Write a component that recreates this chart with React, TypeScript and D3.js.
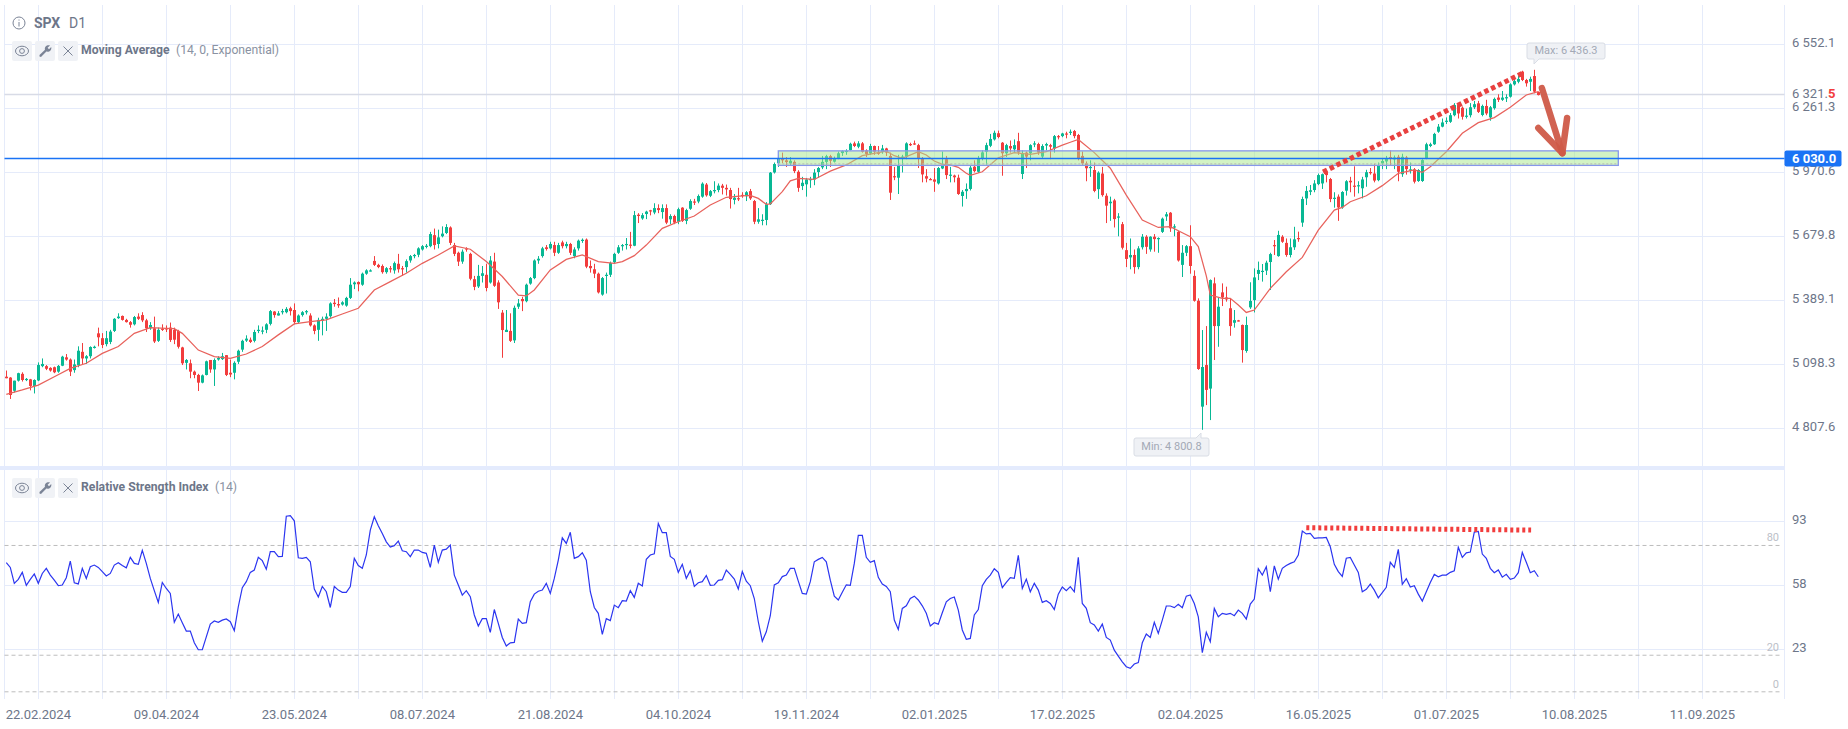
import React from "react";
import * as d3 from "d3";

// Every row holds 16 sessions; 24 rows = 384 daily candles
const openPrices = [
5042,5038,4978,5024,5055,5028,5030,5000,5025,5090,5090,5082,5085,5065,5092,5130,
5120,5072,5095,5155,5125,5135,5175,5239,5217,5190,5200,5250,5308,5318,5300,5290,
5280,5315,5322,5298,5262,5262,5205,5260,5262,5265,5255,5250,5175,5105,5103,5065,
5050,5015,5050,5118,5075,5120,5122,5140,5060,5060,5110,5165,5206,5210,5205,5250,
5250,5255,5282,5338,5320,5335,5335,5353,5345,5290,5322,5335,5320,5275,5255,5297,
5305,5317,5378,5372,5370,5365,5400,5462,5472,5460,5510,5525,5568,5550,5545,5517,
5535,5525,5555,5535,5540,5570,5590,5596,5620,5632,5635,5685,5645,5680,5695,5720,
5640,5605,5565,5625,5600,5485,5452,5500,5505,5470,5565,5470,5333,5245,5250,5207,
5360,5395,5385,5465,5490,5570,5590,5630,5625,5640,5605,5652,5635,5645,5590,5625,
5660,5665,5545,5530,5510,5415,5500,5505,5562,5605,5635,5640,5642,5637,5778,5761,
5781,5798,5788,5808,5790,5808,5757,5772,5746,5810,5750,5805,5838,5838,5860,5915,
5864,5885,5890,5910,5900,5890,5845,5853,5868,5862,5885,5840,5746,5750,5754,5826,
5970,6012,6032,6025,6011,6018,5973,5908,5916,5937,5938,5972,5993,6018,6044,6019,
6034,6058,6067,6072,6102,6087,6102,6070,6056,6090,6060,6064,6079,6045,5953,5946,
6032,6042,6099,6102,6094,6034,5953,5940,5938,5920,5988,6030,5955,5956,5946,5863,
5885,5895,5996,5973,6031,6064,6091,6120,6148,6105,6057,6090,6075,6112,5963,6060,
6057,6098,6099,6042,6092,6094,6079,6135,6135,6147,6150,6158,6140,6045,6011,5990,
5981,5894,5965,5864,5830,5843,5765,5735,5617,5584,5595,5540,5630,5678,5620,5678,
5668,5700,5770,5787,5720,5700,5550,5605,5635,5500,5387,4906,5095,4988,5466,5272,
5425,5402,5353,5287,5298,5277,5159,5357,5390,5509,5520,5524,5563,5640,5590,5678,
5650,5595,5630,5672,5742,5852,5882,5890,5917,5920,5973,5940,5850,5860,5811,5887,
5932,5910,5908,5898,5948,5972,5965,5935,6011,6020,6040,6029,6041,5962,6038,5980,
5984,5931,5931,6034,6090,6098,6155,6178,6200,6200,6230,6276,6264,6225,6230,6266,
6284,6231,6272,6220,6262,6310,6300,6308,6314,6370,6382,6428,6390,6382,6408,6335,
];
const highPrices = [
5070,5040,5024,5060,5062,5036,5032,5030,5107,5125,5095,5085,5088,5095,5137,5145,
5125,5120,5180,5195,5140,5180,5183,5265,5240,5250,5255,5308,5330,5320,5305,5295,
5318,5330,5335,5305,5290,5315,5265,5280,5275,5288,5265,5255,5178,5122,5120,5070,
5055,5052,5115,5118,5125,5135,5150,5140,5120,5112,5165,5210,5230,5220,5255,5275,
5270,5285,5345,5340,5340,5350,5358,5360,5375,5325,5340,5345,5330,5280,5310,5315,
5330,5380,5395,5402,5385,5405,5490,5475,5475,5515,5530,5530,5590,5555,5552,5540,
5545,5565,5600,5545,5575,5595,5600,5630,5640,5645,5700,5715,5710,5725,5735,5725,
5650,5610,5620,5630,5605,5500,5550,5545,5555,5590,5605,5480,5345,5345,5330,5365,
5395,5405,5465,5495,5575,5590,5632,5640,5655,5655,5650,5660,5655,5650,5630,5665,
5670,5670,5570,5555,5515,5495,5515,5565,5605,5640,5645,5672,5700,5795,5785,5785,
5796,5800,5830,5825,5825,5825,5780,5778,5810,5812,5805,5848,5850,5870,5925,5922,
5890,5930,5920,5918,5915,5900,5872,5900,5880,5885,5895,5845,5808,5780,5835,5972,
6015,6050,6060,6040,6040,6025,5980,5950,5945,5950,5985,5995,6045,6050,6050,6042,
6065,6070,6075,6105,6110,6112,6108,6075,6100,6092,6090,6095,6082,6060,5995,6050,
6050,6107,6105,6115,6100,6040,5985,5945,5990,5995,6065,6045,5995,5960,5960,5890,
5920,6000,6025,6045,6070,6105,6145,6160,6160,6108,6100,6115,6120,6150,6070,6065,
6098,6112,6105,6098,6105,6100,6140,6140,6150,6155,6165,6163,6145,6065,6020,6025,
6015,5975,5995,5875,5860,5850,5785,5745,5650,5670,5620,5635,5690,5685,5680,5690,
5675,5765,5790,5790,5735,5705,5640,5640,5730,5525,5398,5254,5272,5484,5493,5400,
5466,5451,5398,5345,5300,5279,5315,5471,5534,5565,5554,5569,5605,5663,5705,5685,
5670,5670,5723,5701,5860,5908,5913,5935,5965,5965,5978,5945,5880,5870,5885,5935,
5950,5998,5930,5950,5982,5990,6010,6015,6035,6045,6070,6047,6050,6055,6045,6015,
5990,5985,6030,6105,6105,6150,6190,6215,6220,6240,6285,6285,6270,6260,6285,6295,
6295,6278,6300,6272,6310,6325,6340,6325,6375,6395,6408,6432,6395,6405,6436.3,6338,
];
const lowPrices = [
5035,4941,4970,5020,5020,5022,4980,4966,5022,5085,5072,5065,5058,5060,5090,5115,
5045,5060,5085,5100,5100,5125,5170,5180,5172,5180,5190,5245,5305,5297,5288,5265,
5275,5300,5290,5245,5255,5195,5200,5250,5245,5200,5190,5170,5095,5075,5035,5035,
4977,5012,5048,5060,5000,5115,5118,5045,5040,5030,5100,5155,5200,5195,5198,5240,
5235,5240,5275,5310,5320,5325,5330,5320,5280,5285,5315,5325,5270,5235,5205,5230,
5250,5310,5360,5355,5365,5360,5395,5440,5430,5455,5505,5520,5545,5535,5510,5510,
5515,5510,5515,5500,5515,5560,5580,5585,5615,5625,5630,5620,5625,5675,5690,5640,
5590,5545,5555,5610,5480,5435,5445,5470,5430,5465,5450,5350,5128,5245,5200,5195,
5350,5340,5380,5460,5485,5555,5583,5615,5620,5590,5600,5625,5625,5595,5580,5615,
5650,5535,5515,5490,5420,5410,5420,5495,5555,5600,5615,5620,5625,5635,5740,5755,
5758,5775,5780,5785,5760,5735,5735,5735,5735,5745,5735,5800,5822,5830,5855,5860,
5858,5875,5880,5870,5865,5806,5825,5840,5855,5840,5845,5735,5737,5730,5730,5822,
5965,5995,6012,5995,6000,5967,5882,5890,5860,5900,5912,5945,5985,5985,5995,6015,
6030,6045,6050,6070,6085,6080,6060,6040,6050,6050,6050,6055,6045,5845,5935,5872,
5970,6030,6090,6095,5990,5925,5925,5935,5882,5915,5985,5940,5925,5925,5868,5815,
5850,5888,5970,5968,6025,6005,6085,6115,6125,5955,6040,6060,6060,6050,5940,5990,
6025,6085,6050,6035,6070,6030,6060,6120,6130,6125,6140,6125,6025,6000,5930,5950,
5880,5850,5860,5740,5750,5720,5680,5620,5540,5530,5510,5530,5620,5600,5610,5610,
5605,5695,5750,5700,5680,5565,5495,5590,5510,5383,5073,4800.8,4913,4845,5118,5178,
5363,5383,5228,5265,5293,5106,5151,5350,5334,5481,5474,5504,5436,5595,5587,5650,
5587,5584,5618,5655,5723,5822,5867,5880,5912,5895,5925,5835,5810,5750,5805,5865,
5880,5860,5875,5852,5905,5960,5925,5930,5985,5985,6000,5985,5930,5950,5960,5965,
5920,5927,5927,6030,6085,6095,6150,6175,6190,6195,6225,6215,6210,6215,6220,6258,
6240,6225,6230,6205,6255,6290,6295,6290,6310,6365,6375,6385,6360,6340,6330,6320,
];
const closePrices = [
5035,4959,5024,5058,5027,5032,5000,5027,5095,5100,5078,5070,5062,5091,5133,5120,
5065,5098,5160,5125,5135,5177,5178,5221,5186,5217,5247,5305,5315,5300,5290,5278,
5313,5305,5298,5262,5277,5202,5255,5255,5258,5209,5210,5178,5103,5118,5065,5050,
5015,5048,5112,5075,5118,5127,5135,5050,5052,5105,5160,5205,5215,5200,5245,5255,
5252,5280,5340,5322,5330,5340,5350,5340,5290,5320,5335,5340,5275,5250,5300,5305,
5315,5375,5372,5366,5380,5400,5460,5470,5462,5510,5525,5525,5550,5540,5517,5535,
5530,5558,5530,5530,5567,5590,5595,5625,5635,5637,5690,5640,5675,5692,5722,5650,
5600,5565,5610,5620,5487,5450,5500,5512,5445,5570,5455,5380,5254,5255,5205,5355,
5375,5385,5460,5490,5570,5578,5625,5622,5645,5605,5640,5635,5645,5605,5620,5660,
5664,5542,5535,5510,5425,5490,5505,5558,5600,5630,5640,5645,5638,5776,5772,5776,
5792,5795,5808,5799,5808,5742,5772,5742,5803,5750,5799,5840,5835,5863,5919,5866,
5885,5890,5910,5900,5893,5849,5855,5850,5865,5880,5852,5746,5757,5755,5825,5969,
6008,6035,6025,6017,6023,5976,5900,5923,5938,5940,5969,5990,6018,6044,6023,6034,
6057,6067,6068,6100,6090,6102,6064,6054,6090,6064,6056,6079,6060,5878,5950,6000,
6042,6102,6097,6100,6034,5961,5942,5938,5928,5990,6004,5958,5960,5948,5872,5882,
5895,5992,5976,6034,6061,6094,6122,6150,6131,6057,6094,6079,6094,6061,6057,6042,
6094,6102,6061,6090,6099,6087,6135,6132,6147,6143,6155,6135,6034,6011,5989,5995,
5886,5969,5867,5819,5837,5758,5770,5628,5577,5595,5540,5625,5678,5632,5678,5667,
5672,5760,5780,5716,5725,5570,5605,5635,5545,5387,5077,5086,4982,5481,5272,5360,
5402,5393,5272,5299,5296,5163,5277,5386,5493,5527,5523,5560,5599,5636,5686,5655,
5595,5630,5666,5667,5849,5886,5889,5920,5958,5962,5958,5849,5855,5811,5881,5930,
5925,5908,5912,5938,5971,5970,5933,6003,6022,6035,6036,6038,5973,6041,5985,5984,
5928,5981,6026,6098,6098,6145,6178,6197,6205,6230,6276,6238,6223,6228,6266,6280,
6245,6272,6238,6266,6304,6300,6310,6312,6370,6385,6395,6390,6375,6395,6337,6321.5,
];
const rsiValues = [
70.6,68,59.3,61.5,65.3,58.2,61.5,64.4,59.3,64.7,67.5,63.8,61,58,58.4,62.4,
71.5,59.6,59,67.5,62,68.4,69.3,68,65.7,63.3,64.7,69.3,70.6,69,67.8,73.5,
70.2,69.7,77.3,70.2,62,55.3,48.9,59.8,56.5,53.8,38,42.5,37.8,33.2,33.2,26.8,
23,23,30,37,38.7,38,39.2,39.8,38.3,33.4,46.5,56.9,60.2,65.3,66.6,73.5,
71.7,67,76.6,76.6,73.9,74,96,96.3,93.5,73.3,73,73.5,71.1,56.2,51.8,57.6,
54.7,46.1,57.6,55.6,54.4,54.4,57.5,73,69,67.5,74.8,88.4,95.7,90.8,86.6,82,
79.1,79.9,82.4,77.1,76.6,73.9,77.5,77.5,76.2,75.7,68,80.2,70.8,77.5,78,80.2,
63.8,58.4,52.9,55.3,52,42,36,40,40,32.5,45,37.4,29.7,25,26.8,27,
39.8,37.4,37.8,49.3,53.4,55,55.6,59.3,53.8,62,72,84.2,81.1,87.2,73,73.9,
76,72,54.7,46.1,42.9,31.4,40,38.9,47.4,46,49.8,49.6,55.3,51.6,59.3,57.8,
72.4,74.8,75.5,92,87,87,74,72.4,65.3,69.7,62,66.2,57.6,59.6,60.2,63.6,
58.2,58.4,60.9,61.3,66.6,64.2,61.6,56.2,65.8,60.5,58,51,38.3,27.7,32.8,41.6,
58.4,59.6,63,63.8,67.5,67.5,60.5,53.8,53.4,60.2,71.1,72.4,73.5,71.1,61,52.3,
50.2,54.4,58.5,58.2,70.2,85.5,85.5,73.5,70.8,71.7,62.6,58.9,57.6,54.7,39.2,34.1,
45.6,47,51,52.3,50.2,47,42.9,36,37.8,37,43.2,49.2,51,51.8,44.7,33.8,
28.7,29.2,42,45,58,61.5,63.8,67.3,65.3,56.9,59.8,62.4,62,74.6,56.5,61.6,
54.7,59.3,55.6,48.9,49.8,48.3,45,53.4,57.3,55.3,57.5,54.7,73.5,48.3,45.6,37.8,
36.5,33.2,37,29.7,28.3,22.8,19.5,16.4,13.7,12.8,15.2,16,26.8,31.6,29.7,38,
31.9,39.2,46.9,46.9,46,47.8,46,52.3,52.9,48.3,41,21.4,32.5,27.4,45.6,41,
42.9,42.3,42.9,41.6,44.7,42.9,39.8,48,50.7,67.3,63.8,68.4,54.7,68.8,61.6,67.5,
69,70.2,71.1,74.8,87.9,86.3,86.6,83.9,84.2,84.2,84.4,79.3,69.7,65.7,63.1,73,
73.5,69.3,65.3,54.7,56,58.9,55.6,51.4,54.2,57.1,70.8,68,77.9,58.7,61.8,57.3,
58,53.4,49.6,54.7,59.8,64.2,62.9,63.8,63.8,65.3,66.2,79,73.5,76,76.4,87.3,
87.7,75.3,73,67.5,65.1,66.6,62.7,64.2,61.5,62.2,65.1,76.2,70.8,65.1,66.2,62.9,
];
// Readings of the moving average: candle number (0 = the 22.02.2024 candle) and price
const emaCandle = [-8,-4,0,4,8,12,16,20,24,28,32,34,36,40,44,48,52,56,60,64,68,72,76,80,84,88,92,96,100,104,108,112,116,120,122,124,128,132,136,140,144,146,149,152,156,160,164,168,172,176,178,180,182,183,186,188,190,194,198,202,206,210,212,214,216,220,222,224,226,228,230,232,233,236,240,244,248,252,256,258,260,264,268,272,276,280,283,286,288,290,292,293,296,298,300,302,304,308,312,316,320,324,326,328,332,336,340,344,346,348,352,356,360,364,368,372,375];
const emaValues = [4962,4982,5004,5042,5080,5103,5148,5179,5239,5265,5262,5260,5239,5163,5133,5125,5145,5179,5232,5282,5292,5300,5327,5353,5436,5474,5512,5557,5595,5636,5621,5565,5497,5413,5409,5436,5527,5575,5595,5565,5557,5565,5592,5640,5716,5746,5772,5822,5857,5863,5866,5852,5825,5827,5883,5932,5943,5938,5976,6004,6046,6060,6067,6046,6034,6064,6049,6022,6007,6004,5993,5966,5957,5973,6037,6060,6052,6064,6094,6107,6120,6060,5989,5867,5754,5720,5724,5696,5678,5633,5500,5413,5398,5398,5368,5334,5345,5443,5519,5584,5708,5799,5811,5837,5864,5910,5966,5981,5970,5996,6064,6148,6196,6219,6266,6322,6337];

const priceTicks = [6552.1, 6261.3, 5970.6, 5679.8, 5389.1, 5098.3, 4807.6];
const rsiTicks = [93, 58, 23];
const rsiLevels = [80, 20, 0];
const dateLabels = ["22.02.2024","09.04.2024","23.05.2024","08.07.2024","21.08.2024","04.10.2024","19.11.2024","02.01.2025","17.02.2025","02.04.2025","16.05.2025","01.07.2025","10.08.2025","11.09.2025"];
const resistanceLevel = 6030;
const lastPrice = 6321.5;
const zoneTop = 6068;
const zoneBottom = 6002;
const zoneCandles = [185, 395];
const priceTrend = [{ c: 321.2, p: 5972 }, { c: 371.2, p: 6422 }];
const rsiTrend = [{ c: 317, v: 89.7 }, { c: 373.2, v: 88.4 }];
const arrowPoints = { start: [375.9, 6353], tip: [381, 6058], left: [375, 6172], right: [382.2, 6217] };

const W = 1848, H = 729;
const LEFT = 4.5, AXIS = 1784.5;
const GREEN = "#08b894", RED = "#f23d3d", GRID = "#e5ebfa";
const TEXT = "#6d7689";
const FONT = "Roboto, sans-serif";

const x = d3.scaleLinear().domain([0, 1]).range([38.3, 42.3]);
const y = d3.scaleLinear().domain([4807.6, 6552.1]).range([428.3, 44.3]);
const r = d3.scaleLinear().domain([0, 93]).range([691.8, 521.7]);
const FIRST = -8;
const crisp = (v: number) => Math.floor(v) + 0.5;

const candles = d3.range(closePrices.length).map((i) => ({
  k: i + FIRST, o: openPrices[i], h: highPrices[i], l: lowPrices[i], c: closePrices[i],
}));
const emaPath = d3.line<number>().x((k) => x(k)).y((_, i) => y(emaValues[i]))(emaCandle) as string;
const rsiPath = d3.line<number>().x((_, i) => x(i + FIRST)).y((v) => r(v))(rsiValues) as string;
const gridCandles = d3.range(0, 27).map((n) => n * 16);

function IconBox({ cx, cy, kind }: { cx: number; cy: number; kind: "eye" | "wrench" | "close" }) {
  return (
    <g transform={`translate(${cx},${cy})`}>
      <rect x={-10} y={-10} width={20} height={20} rx={2} fill="#f0f2f6" />
      {kind === "eye" && (
        <g fill="none" stroke="#7b8496" strokeWidth={1}>
          <ellipse rx={6.5} ry={4.8} />
          <circle r={2.4} />
        </g>
      )}
      {kind === "wrench" && (
        <path d="M-5.5 5.5 L-5.5 4 L0 -1.2 C-0.8 -4.2 2 -6.6 5 -5.6 L2.6 -3.2 L4 -1.8 L6.2 -4 C7 -0.8 4.2 1.4 1.4 0.6 L-4 6 Z" fill="#7b8496" />
      )}
      {kind === "close" && (
        <path d="M-4.5 -4.5 L4.5 4.5 M4.5 -4.5 L-4.5 4.5" stroke="#7b8496" strokeWidth={1} />
      )}
    </g>
  );
}

function Callout({ left, top, width, height, px, py, label, down }: { left: number; top: number; width: number; height: number; px: number; py: number; label: string; down: boolean }) {
  const b = top + height, rt = left + width;
  const d = down
    ? `M${left + 2} ${top} H${rt - 2} Q${rt} ${top} ${rt} ${top + 2} V${b - 2} Q${rt} ${b} ${rt - 2} ${b} H${px + 5} L${px} ${py} L${px} ${b} H${left + 2} Q${left} ${b} ${left} ${b - 2} V${top + 2} Q${left} ${top} ${left + 2} ${top} Z`
    : `M${left + 2} ${top} H${px - 5} L${px} ${py} L${px} ${top} H${rt - 2} Q${rt} ${top} ${rt} ${top + 2} V${b - 2} Q${rt} ${b} ${rt - 2} ${b} H${left + 2} Q${left} ${b} ${left} ${b - 2} V${top + 2} Q${left} ${top} ${left + 2} ${top} Z`;
  return (
    <g>
      <path d={d} fill="#eff1f5" stroke="#d9dde5" strokeWidth={1} />
      <text x={left + width / 2} y={top + height / 2 + 0.5} textAnchor="middle" dominantBaseline="middle" fontSize={11} fill="#a3a9b6" fontFamily={FONT}>{label}</text>
    </g>
  );
}

const fmt = (v: number) => {
  const s = v.toFixed(1);
  return s.slice(0, 1) + " " + s.slice(1);
};

export default function App() {
  const zoneY0 = y(zoneTop), zoneY1 = y(zoneBottom);
  return (
    <svg width={W} height={H} viewBox={`0 0 ${W} ${H}`} style={{ position: "fixed", left: 0, top: 0, background: "#fff" }} fontFamily={FONT}>
      {/* grid */}
      <g stroke={GRID} strokeWidth={1}>
        <line x1={LEFT} x2={LEFT} y1={5} y2={699} />
        <line x1={AXIS} x2={AXIS} y1={5} y2={699} />
        {gridCandles.map((c) => <line key={c} x1={crisp(x(c))} x2={crisp(x(c))} y1={5} y2={699} />)}
        {priceTicks.map((t) => <line key={t} x1={LEFT} x2={AXIS} y1={crisp(y(t))} y2={crisp(y(t))} />)}
        {rsiTicks.map((t) => <line key={t} x1={LEFT} x2={AXIS} y1={crisp(r(t))} y2={crisp(r(t))} />)}
      </g>
      <rect x={0} y={466} width={AXIS} height={4} fill="#e4ebfd" />

      {/* price line */}
      <line x1={LEFT} x2={AXIS} y1={crisp(y(lastPrice)) - 1} y2={crisp(y(lastPrice)) - 1} stroke="#d8dbe6" strokeWidth={1.3} />

      {/* candles */}
      {candles.map((d) => {
        const cx = Math.round(x(d.k) - 0.5);
        const up = d.c >= d.o;
        const color = up ? GREEN : RED;
        const top = y(Math.max(d.o, d.c));
        const bot = y(Math.min(d.o, d.c));
        return (
          <g key={d.k} fill={color}>
            <rect x={cx} y={y(d.h)} width={1} height={Math.max(1, y(d.l) - y(d.h))} />
            <rect x={cx - 1} y={top} width={3} height={Math.max(1.2, bot - top)} />
          </g>
        );
      })}

      {/* moving average */}
      <path d={emaPath} fill="none" stroke="#e8625c" strokeWidth={1.25} />

      {/* support zone */}
      <rect x={x(zoneCandles[0])} y={zoneY0} width={x(zoneCandles[1]) - x(zoneCandles[0])} height={zoneY1 - zoneY0}
        fill="#a5e88a" fillOpacity={0.5} stroke="#8798ea" strokeWidth={1.3} />
      <line x1={x(zoneCandles[0])} x2={x(zoneCandles[1])} y1={zoneY1 - 1.5} y2={zoneY1 - 1.5} stroke="#b5b9b0" strokeWidth={1} strokeDasharray="2 2" />
      <line x1={LEFT} x2={AXIS} y1={crisp(y(resistanceLevel)) - 1} y2={crisp(y(resistanceLevel)) - 1} stroke="#1a73f5" strokeWidth={1.3} />

      {/* annotations */}
      <line x1={x(priceTrend[0].c)} y1={y(priceTrend[0].p)} x2={x(priceTrend[1].c)} y2={y(priceTrend[1].p)} stroke="#e8403f" strokeWidth={5} strokeDasharray="4.5 3" />
      <g fill="none" stroke="#cf5a48" strokeWidth={6.5} strokeLinecap="round" strokeOpacity={0.95}>
        <line x1={x(arrowPoints.start[0])} y1={y(arrowPoints.start[1])} x2={x(arrowPoints.tip[0])} y2={y(arrowPoints.tip[1])} />
        <line x1={x(arrowPoints.left[0])} y1={y(arrowPoints.left[1])} x2={x(arrowPoints.tip[0])} y2={y(arrowPoints.tip[1])} />
        <line x1={x(arrowPoints.right[0])} y1={y(arrowPoints.right[1])} x2={x(arrowPoints.tip[0])} y2={y(arrowPoints.tip[1])} />
      </g>
      <Callout left={1527} top={43} width={78} height={16} px={1534} py={64} label="Max: 6 436.3" down />
      <Callout left={1134} top={438} width={75} height={18} px={1201} py={433} label="Min: 4 800.8" down={false} />

      {/* RSI */}
      {rsiLevels.map((t) => (
        <line key={t} x1={LEFT} x2={1781} y1={r(t)} y2={r(t)} stroke="#bdbdbd" strokeWidth={1} strokeDasharray="4 3" />
      ))}
      <path d={rsiPath} fill="none" stroke="#2b35f0" strokeWidth={1.2} />
      <line x1={x(rsiTrend[0].c)} y1={r(rsiTrend[0].v)} x2={x(rsiTrend[1].c)} y2={r(rsiTrend[1].v)} stroke="#f23d3d" strokeWidth={5} strokeDasharray="3 3" />
      {rsiLevels.map((t) => (
        <text key={t} x={1779} y={r(t) - 7} textAnchor="end" dominantBaseline="middle" fontSize={11} fill="#bcc0c8">{t}</text>
      ))}

      {/* right axis */}
      {priceTicks.map((t) => (
        <text key={t} x={1792} y={y(t) - 1} dominantBaseline="middle" fontSize={13} fill={TEXT}>{fmt(t)}</text>
      ))}
      <text x={1792} y={y(lastPrice)} dominantBaseline="middle" fontSize={13} fill={TEXT}>
        {fmt(lastPrice).slice(0, -1)}<tspan fontWeight={700} fill={RED}>{fmt(lastPrice).slice(-1)}</tspan>
      </text>
      <rect x={AXIS} y={150.5} width={57} height={16} rx={2} fill="#1a73f5" />
      <text x={1792} y={y(resistanceLevel) + 0.5} dominantBaseline="middle" fontSize={13} fontWeight={700} fill="#fff">{fmt(resistanceLevel)}</text>
      {rsiTicks.map((t) => (
        <text key={t} x={1792} y={r(t) - 1} dominantBaseline="middle" fontSize={13} fill={TEXT}>{t}</text>
      ))}

      {/* dates */}
      {dateLabels.map((d, i) => (
        <text key={d} x={x(i * 32)} y={716} textAnchor="middle" dominantBaseline="middle" fontSize={13} fill={TEXT}>{d}</text>
      ))}

      {/* headers */}
      <g fill="none" stroke="#7b8496" strokeWidth={1}>
        <circle cx={19} cy={23} r={6} />
        <path d="M19 22 V26.5 M19 19.5 V20.6" />
      </g>
      <text x={34} y={24} dominantBaseline="middle" fontSize={14} fontWeight={700} fill={TEXT}>SPX</text>
      <text x={69} y={24} dominantBaseline="middle" fontSize={14} fill={TEXT}>D1</text>
      <IconBox cx={22} cy={51} kind="eye" />
      <IconBox cx={45} cy={51} kind="wrench" />
      <IconBox cx={68} cy={51} kind="close" />
      <text x={81} y={51} dominantBaseline="middle" fontSize={12.2} fontWeight={700} fill={TEXT}>Moving Average</text>
      <text x={176} y={51} dominantBaseline="middle" fontSize={12.2} fill="#8a92a2">(14, 0, Exponential)</text>
      <IconBox cx={22} cy={488} kind="eye" />
      <IconBox cx={45} cy={488} kind="wrench" />
      <IconBox cx={68} cy={488} kind="close" />
      <text x={81} y={488} dominantBaseline="middle" fontSize={12.2} fontWeight={700} fill={TEXT}>Relative Strength Index</text>
      <text x={215} y={488} dominantBaseline="middle" fontSize={12.2} fill="#8a92a2">(14)</text>
    </svg>
  );
}
